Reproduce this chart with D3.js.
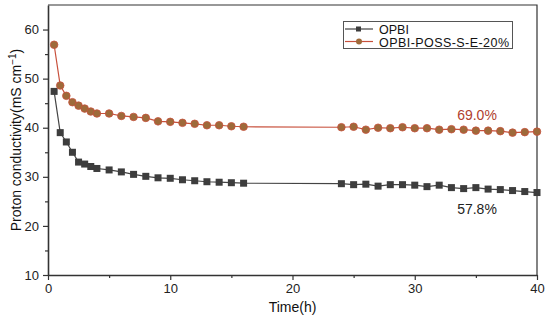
<!DOCTYPE html>
<html>
<head>
<meta charset="utf-8">
<script src="https://cdn.jsdelivr.net/npm/d3@7"></script>
<style>
body { margin: 0; background: #fff; }
text { font-family: "Liberation Sans", Arial, sans-serif; }
</style>
</head>
<body>
<script>
var width = 550,
    height = 321;

// time points (h)
var times = [0.5, 1, 1.5, 2, 2.5, 3, 3.5, 4, 5, 6, 7, 8, 9, 10, 11, 12, 13, 14, 15, 16,
             24, 25, 26, 27, 28, 29, 30, 31, 32, 33, 34, 35, 36, 37, 38, 39, 40];

var opbi = [47.4, 39.0, 37.1, 35.0, 33.0, 32.6, 32.1, 31.7, 31.4, 31.0, 30.5, 30.1, 29.8, 29.7, 29.4, 29.2, 29.0, 28.9, 28.8, 28.7,
            28.6, 28.4, 28.5, 28.1, 28.4, 28.4, 28.3, 28.0, 28.3, 27.8, 27.6, 27.8, 27.5, 27.4, 27.2, 27.0, 26.8];

var opbiPoss = [56.9, 48.6, 46.5, 45.2, 44.5, 43.9, 43.3, 42.9, 42.9, 42.4, 42.2, 42.0, 41.3, 41.2, 41.0, 40.8, 40.5, 40.5, 40.3, 40.2,
                40.1, 40.2, 39.6, 40.0, 39.9, 40.1, 39.9, 39.9, 39.6, 39.7, 39.6, 39.4, 39.4, 39.3, 39.0, 39.1, 39.2];

var seriesNames = ['OPBI', 'OPBI-POSS-S-E-20%'];

var xTicks = [0, 10, 20, 30, 40],
    yTicks = [10, 20, 30, 40, 50, 60];

var margin = {left: 48, right: 13, top: 5, bottom: 46};

var svg = d3.select('body').append('svg')
    .attr('width', width)
    .attr('height', height);

var x = d3.scaleLinear().domain([0, 40]).range([margin.left, width - margin.right]);
var y = d3.scaleLinear().domain([10, 65]).range([height - margin.bottom, margin.top]);

/* frame top and right */
svg.append('path')
    .attr('d', 'M' + x(0) + ',' + y(65) + 'H' + x(40) + 'V' + y(10))
    .attr('fill', 'none')
    .attr('stroke', '#333')
    .attr('stroke-width', 1.2);

/* x axis with minor ticks */
svg.append('g')
    .attr('transform', 'translate(0,' + y(10) + ')')
    .call(d3.axisBottom(x).tickValues([5, 15, 25, 35]).tickSize(3).tickFormat(''))
    .call(g => g.select('.domain').remove());
var gx = svg.append('g')
    .attr('transform', 'translate(0,' + y(10) + ')')
    .call(d3.axisBottom(x).tickValues(xTicks).tickSize(5).tickSizeOuter(0).tickPadding(4));
gx.selectAll('text').attr('font-size', 13).attr('fill', '#222').style('font-family', '"Liberation Sans", Arial, sans-serif');

/* y axis with minor ticks */
svg.append('g')
    .attr('transform', 'translate(' + x(0) + ',0)')
    .call(d3.axisLeft(y).tickValues([15, 25, 35, 45, 55]).tickSize(3).tickFormat(''))
    .call(g => g.select('.domain').remove());
var gy = svg.append('g')
    .attr('transform', 'translate(' + x(0) + ',0)')
    .call(d3.axisLeft(y).tickValues(yTicks).tickSize(5).tickSizeOuter(0).tickPadding(4));
gy.selectAll('text').attr('font-size', 13).attr('fill', '#222').style('font-family', '"Liberation Sans", Arial, sans-serif');

svg.selectAll('.domain').attr('stroke', '#333').attr('stroke-width', 1.6);
svg.selectAll('.tick line').attr('stroke', '#333').attr('stroke-width', 1.2);

/* axis titles */
svg.append('text')
    .attr('x', (x(0) + x(40)) / 2)
    .attr('y', 312)
    .attr('text-anchor', 'middle')
    .attr('font-size', 14)
    .attr('fill', '#111')
    .text('Time(h)');

var ylab = svg.append('text')
    .attr('transform', 'translate(21,' + ((y(10) + y(65)) / 2) + ') rotate(-90)')
    .attr('text-anchor', 'middle')
    .attr('font-size', 14)
    .attr('fill', '#111');
ylab.append('tspan').text('Proton conductivity(mS cm');
ylab.append('tspan').attr('dy', -5).attr('font-size', 10).text('\u22121');
ylab.append('tspan').attr('dy', 5).text(')');

/* series */
var line = d3.line()
    .x((d, i) => x(times[i]))
    .y(d => y(d));

svg.append('path')
    .datum(opbi)
    .attr('d', line)
    .attr('fill', 'none')
    .attr('stroke', '#444')
    .attr('stroke-width', 1.2);

svg.append('path')
    .datum(opbiPoss)
    .attr('d', line)
    .attr('fill', 'none')
    .attr('stroke', '#c8503c')
    .attr('stroke-width', 1.2);

svg.selectAll('.sq')
    .data(opbi)
    .enter().append('rect')
    .attr('class', 'sq')
    .attr('x', (d, i) => x(times[i]) - 3.5)
    .attr('y', d => y(d) - 3.5)
    .attr('width', 7)
    .attr('height', 7)
    .attr('fill', '#3d3d3d');

svg.selectAll('.ci')
    .data(opbiPoss)
    .enter().append('circle')
    .attr('class', 'ci')
    .attr('cx', (d, i) => x(times[i]))
    .attr('cy', d => y(d))
    .attr('r', 3.8)
    .attr('fill', '#9e6a3a')
    .attr('stroke', '#c8503c')
    .attr('stroke-width', 0.8);

/* annotations */
svg.append('text')
    .attr('x', 477).attr('y', 120)
    .attr('text-anchor', 'middle')
    .attr('font-size', 14)
    .attr('fill', '#b0402e')
    .text('69.0%');

svg.append('text')
    .attr('x', 477).attr('y', 214)
    .attr('text-anchor', 'middle')
    .attr('font-size', 14)
    .attr('fill', '#222')
    .text('57.8%');

/* legend */
var leg = svg.append('g');
leg.append('rect')
    .attr('x', 343.5).attr('y', 21.5)
    .attr('width', 169).attr('height', 27)
    .attr('fill', '#fff')
    .attr('stroke', '#555')
    .attr('stroke-width', 1);

leg.append('line').attr('x1', 345).attr('x2', 373).attr('y1', 29).attr('y2', 29)
    .attr('stroke', '#444').attr('stroke-width', 1.2);
leg.append('rect').attr('x', 356).attr('y', 26.5).attr('width', 5).attr('height', 5).attr('fill', '#3d3d3d');
leg.append('text').attr('x', 379).attr('y', 33.5).attr('font-size', 12.5).attr('fill', '#111').text(seriesNames[0]);

leg.append('line').attr('x1', 345).attr('x2', 373).attr('y1', 41.5).attr('y2', 41.5)
    .attr('stroke', '#c8503c').attr('stroke-width', 1.2);
leg.append('circle').attr('cx', 359).attr('cy', 41.5).attr('r', 3).attr('fill', '#9e6a3a');
leg.append('text').attr('x', 379).attr('y', 46.5).attr('font-size', 12.5)
    .attr('textLength', 130).attr('fill', '#111').text(seriesNames[1]);
</script>
</body>
</html>
